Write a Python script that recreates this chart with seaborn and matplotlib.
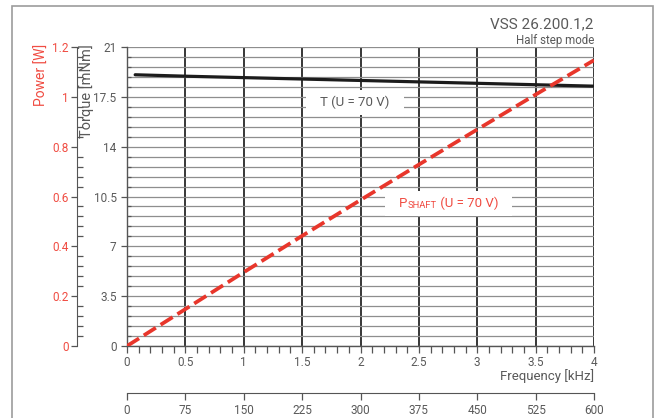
import matplotlib
matplotlib.use("Agg")
import matplotlib.pyplot as plt
import seaborn as sns
from matplotlib.ticker import FixedLocator, MultipleLocator
from matplotlib.patches import Rectangle
from matplotlib.transforms import Bbox

# ---------------- data ----------------
freq_torque = [0.07, 0.5, 1.0, 1.5, 2.0, 2.5, 3.0, 3.5, 4.0]          # kHz
torque = [19.05, 18.95, 18.85, 18.75, 18.65, 18.55, 18.45, 18.35, 18.25]  # mNm
freq_power = [0.0, 0.5, 1.0, 1.5, 2.0, 2.5, 3.0, 3.5, 4.0]            # kHz
power = [0.0, 0.148, 0.296, 0.442, 0.586, 0.728, 0.869, 1.009, 1.147]   # W

freq_ticks = [0, 0.5, 1, 1.5, 2, 2.5, 3, 3.5, 4]
freq_labels = ["0", "0.5", "1", "1.5", "2", "2.5", "3", "3.5", "4"]
torque_ticks = [0, 3.5, 7, 10.5, 14, 17.5, 21]
torque_labels = ["0", "3.5", "7", "10.5", "14", "17.5", "21"]
power_ticks = [0, 0.2, 0.4, 0.6, 0.8, 1.0, 1.2]
power_labels = ["0", "0.2", "0.4", "0.6", "0.8", "1", "1.2"]
rpm_ticks = [0, 75, 150, 225, 300, 375, 450, 525, 600]
rpm_labels = ["0", "75", "150", "225", "300", "375", "450", "525", "600"]

title = "VSS 26.200.1,2"
subtitle = "Half step mode"

# ---------------- style ----------------
sns.set_style("white")
plt.rcParams["font.family"] = ["Roboto", "DejaVu Sans"]

RED_LINE = "#e8362b"
RED_TEXT = "#f04c42"
GRAY_TEXT = "#5a5a5a"
AX_COL = "#555555"

W_PX, H_PX = 661, 418
fig = plt.figure(figsize=(W_PX / 100, H_PX / 100), dpi=100)
L, B, W, H = 127 / W_PX, 72 / H_PX, 467 / W_PX, 299 / H_PX
ax = fig.add_axes([L, B, W, H])
ax2 = fig.add_axes([L, B, W, H], sharex=ax)
ax2.patch.set_visible(False)

# ---------------- torque axis (main) ----------------
sns.lineplot(x=freq_torque, y=torque, ax=ax, color="#1c1c1c", lw=2.3, zorder=3)
ax.set_xlim(0, 4)
ax.set_ylim(0, 21)
ax.xaxis.set_major_locator(FixedLocator(freq_ticks))
ax.set_xticklabels(freq_labels)
ax.xaxis.set_minor_locator(MultipleLocator(0.1))
ax.yaxis.set_major_locator(FixedLocator(torque_ticks))
ax.set_yticklabels(torque_labels)
ax.yaxis.set_minor_locator(MultipleLocator(0.7))
ax.grid(False)
ax.grid(True, which="major", axis="x", color="black", lw=1.1)
ax.grid(True, which="both", axis="y", color="#8e8e8e", lw=0.9)
ax.set_axisbelow(True)
for s in ("top", "right"):
    ax.spines[s].set_visible(False)
for s in ("left", "bottom"):
    ax.spines[s].set_color(AX_COL)
    ax.spines[s].set_linewidth(1.0)
ax.tick_params(axis="x", which="both", direction="out", length=5, width=0.9,
               color=AX_COL, labelsize=8.5, labelcolor=GRAY_TEXT, pad=2.5, bottom=True)
ax.tick_params(axis="y", which="major", direction="out", length=4.5, width=0.9,
               color=AX_COL, labelsize=8.5, labelcolor=GRAY_TEXT, pad=3, left=True)
ax.tick_params(axis="y", which="minor", direction="in", length=3, width=0.9,
               color=AX_COL, left=True)
ax.set_xlabel("")
ax.set_ylabel("")

# ---------------- power axis ----------------
sns.lineplot(x=freq_power, y=power, ax=ax2, color=RED_LINE, lw=2.7,
             linestyle=(0, (3.8, 1.5)), zorder=3)
ax2.set_ylim(0, 1.2)
ax2.yaxis.set_ticks_position("left")
ax2.yaxis.set_major_locator(FixedLocator(power_ticks))
ax2.set_yticklabels(power_labels)
ax2.yaxis.set_minor_locator(MultipleLocator(0.04))
ax2.spines["left"].set_position(("outward", 36))
ax2.spines["left"].set_color(AX_COL)
for s in ("top", "right", "bottom"):
    ax2.spines[s].set_visible(False)
ax2.grid(False)
ax2.tick_params(axis="x", which="both", bottom=False, labelbottom=False)
ax2.tick_params(axis="y", which="major", direction="out", length=4, width=0.9,
                color=AX_COL, labelsize=8.5, labelcolor=RED_TEXT, pad=2)
ax2.tick_params(axis="y", which="minor", direction="in", length=4.5, width=0.9,
                color=AX_COL)
ax2.set_xlabel("")
ax2.set_ylabel("")

# ---------------- rpm secondary axis ----------------
secax = ax.secondary_xaxis(-(393 - 346) / 299,
                           functions=(lambda f: f * 150, lambda r: r / 150))
secax.set_xticks(rpm_ticks)
secax.set_xticklabels(rpm_labels)
secax.spines["bottom"].set_color(AX_COL)
secax.tick_params(axis="x", direction="out", length=5, width=0.9, color=AX_COL,
                  labelsize=8.5, labelcolor=GRAY_TEXT, pad=3)

# ---------------- texts ----------------
fig.text(42 / W_PX, 1 - 44 / H_PX, "Power [W]", rotation=90, ha="center", va="top",
         fontsize=10, color=RED_TEXT)
fig.text(87 / W_PX, 1 - 44 / H_PX, "Torque [mNm]", rotation=90, ha="center", va="top",
         fontsize=10.5, color=GRAY_TEXT)
fig.text(594 / W_PX, 1 - 380 / H_PX, "Frequency [kHz]", ha="right", va="baseline",
         fontsize=9.5, color=GRAY_TEXT)
fig.text(594 / W_PX, 1 - 28 / H_PX, title, ha="right", va="baseline",
         fontsize=11, color=GRAY_TEXT)
fig.text(594 / W_PX, 1 - 44 / H_PX, subtitle, ha="right", va="baseline",
         fontsize=8.3, color=GRAY_TEXT)

# T label
tT = ax.text((355 - 127) / 467 * 4, (346 - 106) / 299 * 21, "T (U = 70 V)",
             ha="center", va="baseline", fontsize=9.5, color=GRAY_TEXT, zorder=5)

# P_SHAFT label
p_x = (399 - 127) / 467 * 4
p_y = (346 - 210) / 299 * 1.2
t1 = ax2.text(p_x, p_y, "P", ha="left", va="bottom", fontsize=9.5,
              color=RED_TEXT, zorder=5)
t2 = ax2.annotate("SHAFT", xy=(1, 0), xycoords=t1, xytext=(0.2, 0),
                  textcoords="offset points", ha="left", va="bottom",
                  fontsize=6.8, color=RED_TEXT, zorder=5)
t3 = ax2.annotate(" (U = 70 V)", xy=(1, 0), xycoords=t2, xytext=(0, 0),
                  textcoords="offset points", ha="left", va="bottom",
                  fontsize=9.5, color=RED_TEXT, zorder=5)

# frame around the whole chart
fig.add_artist(Rectangle((12 / W_PX, -0.05), (653 - 12) / W_PX, 1.05 - 6 / H_PX,
                         transform=fig.transFigure, fill=False,
                         edgecolor="#9c9c9c", lw=1.2))

# white boxes behind the labels
fig.canvas.draw()
renderer = fig.canvas.get_renderer()


def white_box(axis, texts, padx, pady):
    bb = Bbox.union([t.get_window_extent(renderer) for t in texts])
    bb = Bbox.from_extents(bb.x0 - padx, bb.y0 - pady, bb.x1 + padx, bb.y1 + pady)
    inv = axis.transData.inverted()
    (x0, y0), (x1, y1) = inv.transform([[bb.x0, bb.y0], [bb.x1, bb.y1]])
    axis.add_patch(Rectangle((x0, y0), x1 - x0, y1 - y0, facecolor="white",
                             edgecolor="none", zorder=4))


white_box(ax, [tT], 14, 6)
white_box(ax2, [t1, t2, t3], 14, 6)

fig.savefig("out.png", dpi=100)
